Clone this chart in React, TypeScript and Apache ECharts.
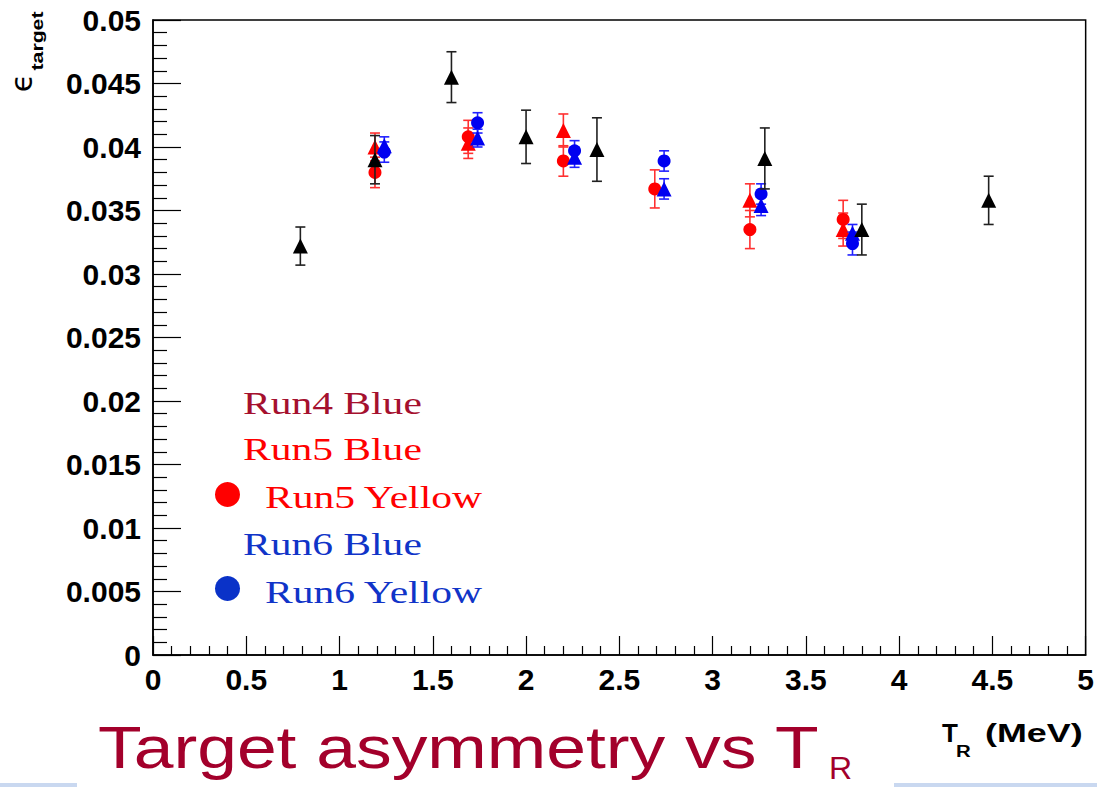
import React, { useEffect, useRef } from "react";
import * as echarts from "echarts";

// ---- data ----
const run4BlueX = [0.79, 1.19, 1.6, 2.0, 2.38, 3.28, 3.8, 4.48];
const run4BlueY = [0.0322, 0.039, 0.0455, 0.0408, 0.0398, 0.0391, 0.0335, 0.0358];
const run4BlueErr = [0.0015, 0.0019, 0.002, 0.0021, 0.0025, 0.0024, 0.002, 0.0019];

const run5BlueX = [1.19, 1.69, 2.2, 3.2, 3.7];
const run5BlueY = [0.04, 0.0403, 0.0413, 0.0358, 0.0335];
const run5BlueErr = [0.0011, 0.0012, 0.0013, 0.0013, 0.0013];

const run5YellowX = [1.19, 1.69, 2.2, 2.69, 3.2, 3.7];
const run5YellowY = [0.038, 0.0408, 0.0389, 0.0367, 0.0335, 0.0343];
const run5YellowErr = [0.0012, 0.0013, 0.0012, 0.0015, 0.0015, 0.0015];

const run6BlueX = [1.24, 1.74, 2.26, 2.74, 3.26, 3.75];
const run6BlueY = [0.0401, 0.0407, 0.0392, 0.0367, 0.0354, 0.0332];
const run6BlueErr = [0.0007, 0.0007, 0.0008, 0.0008, 0.0008, 0.0007];

const run6YellowX = [1.24, 1.74, 2.26, 2.74, 3.26, 3.75];
const run6YellowY = [0.0396, 0.0419, 0.0397, 0.0389, 0.0363, 0.0324];
const run6YellowErr = [0.0008, 0.0008, 0.0008, 0.0008, 0.0008, 0.0009];

const legendLabels = ["Run4 Blue", "Run5 Blue", "Run5 Yellow", "Run6 Blue", "Run6 Yellow"];
const titleText = "Target asymmetry vs T";

const RED = "#ff0000";
const BLUE = "#0000f0";
const BLACK = "#000000";

function errSeries(xs: number[], ys: number[], es: number[], color: string, z: number) {
  return {
    type: "custom",
    silent: true,
    z,
    data: xs.map((x, i) => [x, ys[i] - es[i], ys[i] + es[i]]),
    encode: { x: 0, y: [1, 2] },
    renderItem: (params: any, api: any) => {
      const x = api.value(0);
      const lo = api.coord([x, api.value(1)]);
      const hi = api.coord([x, api.value(2)]);
      const hw = 5;
      const st = { stroke: color, lineWidth: 1.6 };
      return {
        type: "group",
        children: [
          { type: "line", shape: { x1: lo[0], y1: lo[1], x2: hi[0], y2: hi[1] }, style: st },
          { type: "line", shape: { x1: lo[0] - hw, y1: lo[1], x2: lo[0] + hw, y2: lo[1] }, style: st },
          { type: "line", shape: { x1: hi[0] - hw, y1: hi[1], x2: hi[0] + hw, y2: hi[1] }, style: st },
        ],
      };
    },
  };
}

function markSeries(xs: number[], ys: number[], symbol: string, size: number, color: string, z: number) {
  return {
    type: "scatter",
    z,
    symbol,
    symbolSize: size,
    itemStyle: { color, opacity: 1 },
    data: xs.map((x, i) => [x, ys[i]]),
  };
}

export default function App() {
  const ref = useRef<HTMLDivElement>(null);
  useEffect(() => {
    if (!ref.current) return;
    const chart = echarts.init(ref.current, null, { renderer: "svg" });
    const labelFont = {
      fontFamily: "Liberation Sans",
      fontWeight: "bold" as const,
      fontSize: 30,
      color: "#000",
    };
    const legendFont = "31px 'Liberation Serif'";
    const legendScale = 1.34;
    chart.setOption({
      animation: false,
      backgroundColor: "#ffffff",
      grid: {
        left: 153,
        top: 20,
        width: 936,
        height: 635,
        show: true,
        borderColor: "#000",
        borderWidth: 1.5,
        backgroundColor: "transparent",
      },
      xAxis: {
        type: "value",
        min: 0,
        max: 5,
        interval: 0.5,
        axisLine: { show: true, onZero: false, lineStyle: { color: "#000", width: 1.5 } },
        axisTick: { show: true, inside: true, length: 19, lineStyle: { color: "#000", width: 1.2 } },
        minorTick: { show: true, splitNumber: 5, length: 9, lineStyle: { color: "#000", width: 1.2 } },
        splitLine: { show: false },
        axisLabel: { ...labelFont, margin: 9, showMinLabel: true, showMaxLabel: true, hideOverlap: false },
      },
      yAxis: {
        type: "value",
        min: 0,
        max: 0.05,
        interval: 0.005,
        axisLine: { show: true, onZero: false, lineStyle: { color: "#000", width: 1.5 } },
        axisTick: { show: true, inside: true, length: 28, lineStyle: { color: "#000", width: 1.2 } },
        minorTick: { show: true, splitNumber: 5, length: 14, lineStyle: { color: "#000", width: 1.2 } },
        splitLine: { show: false },
        axisLabel: { ...labelFont, margin: 12, showMinLabel: true, showMaxLabel: true, hideOverlap: false },
      },
      series: [
        errSeries(run5YellowX, run5YellowY, run5YellowErr, "#ff3030", 2),
        errSeries(run5BlueX, run5BlueY, run5BlueErr, "#ff3030", 2),
        markSeries(run5YellowX, run5YellowY, "circle", 13, RED, 3),
        markSeries(run5BlueX, run5BlueY, "triangle", 15, RED, 3),
        errSeries(run6YellowX, run6YellowY, run6YellowErr, "#2020ff", 4),
        errSeries(run6BlueX, run6BlueY, run6BlueErr, "#2020ff", 4),
        markSeries(run6YellowX, run6YellowY, "circle", 13, BLUE, 5),
        markSeries(run6BlueX, run6BlueY, "triangle", 15, BLUE, 5),
        errSeries(run4BlueX, run4BlueY, run4BlueErr, "#202020", 6),
        markSeries(run4BlueX, run4BlueY, "triangle", 15, BLACK, 7),
      ],
      graphic: [
        // legend
        { type: "text", x: 243, y: 403, scaleX: legendScale, style: { text: legendLabels[0], font: legendFont, fill: "#a5102e", textAlign: "left", textVerticalAlign: "middle" } },
        { type: "text", x: 243, y: 449, scaleX: legendScale, style: { text: legendLabels[1], font: legendFont, fill: "#ff0000", textAlign: "left", textVerticalAlign: "middle" } },
        { type: "circle", shape: { cx: 227.5, cy: 494.5, r: 12.5 }, style: { fill: "#ff0000" } },
        { type: "text", x: 265, y: 497, scaleX: legendScale, style: { text: legendLabels[2], font: legendFont, fill: "#ff0000", textAlign: "left", textVerticalAlign: "middle" } },
        { type: "text", x: 243, y: 544, scaleX: legendScale, style: { text: legendLabels[3], font: legendFont, fill: "#1034c8", textAlign: "left", textVerticalAlign: "middle" } },
        { type: "circle", shape: { cx: 227.5, cy: 588.5, r: 12.5 }, style: { fill: "#0a32c8" } },
        { type: "text", x: 265, y: 592, scaleX: legendScale, style: { text: legendLabels[4], font: legendFont, fill: "#1034c8", textAlign: "left", textVerticalAlign: "middle" } },
        // y axis title
        { type: "text", x: 21, y: 83, rotation: Math.PI / 2, style: { text: "ϵ", font: "30px 'DejaVu Sans'", fill: "#000", textAlign: "center", textVerticalAlign: "middle" } },
        { type: "text", x: 37, y: 41, rotation: Math.PI / 2, scaleX: 1.25, style: { text: "target", font: "bold 17px 'Liberation Sans'", fill: "#000", textAlign: "center", textVerticalAlign: "middle" } },
        // x axis title
        { type: "text", x: 942, y: 733, style: { text: "T", font: "bold 26px 'Liberation Sans'", fill: "#000", textAlign: "left", textVerticalAlign: "middle" } },
        { type: "text", x: 956, y: 751, scaleX: 1.2, style: { text: "R", font: "bold 17px 'Liberation Sans'", fill: "#000", textAlign: "left", textVerticalAlign: "middle" } },
        { type: "text", x: 985, y: 733, scaleX: 1.38, style: { text: "(MeV)", font: "bold 26px 'Liberation Sans'", fill: "#000", textAlign: "left", textVerticalAlign: "middle" } },
        // slide title
        { type: "text", x: 98, y: 747, scaleX: 1.19, style: { text: titleText, font: "60px 'Liberation Sans'", fill: "#a3002b", textAlign: "left", textVerticalAlign: "middle" } },
        { type: "text", x: 829, y: 768, style: { text: "R", font: "32px 'Liberation Sans'", fill: "#a3002b", textAlign: "left", textVerticalAlign: "middle" } },
        // slide decoration lines
        { type: "rect", shape: { x: 0, y: 783, width: 77, height: 4 }, style: { fill: "#c9d8f0" } },
        { type: "rect", shape: { x: 894, y: 783, width: 203, height: 4 }, style: { fill: "#c9d8f0" } },
      ],
    });
    return () => chart.dispose();
  }, []);
  return (
    <div
      ref={ref}
      style={{ position: "fixed", left: 0, top: 0, width: 1097, height: 787, background: "#fff" }}
    />
  );
}
